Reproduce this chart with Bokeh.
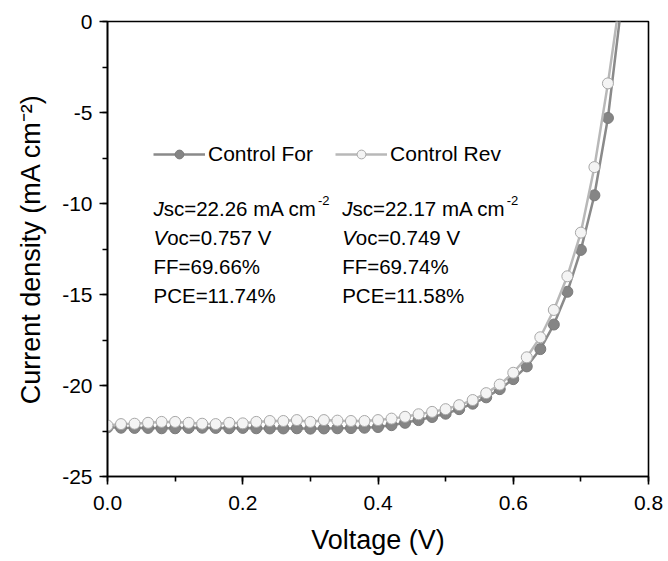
from bokeh.plotting import figure
from bokeh.models import (ColumnDataSource, SingleIntervalTicker, PrintfTickFormatter,
                          Legend, LegendItem, Label, Range1d)
from bokeh.embed import file_html
from bokeh.resources import INLINE

# ---- data ----
voltage = [0.00, 0.02, 0.04, 0.06, 0.08, 0.10, 0.12, 0.14, 0.16, 0.18,
           0.20, 0.22, 0.24, 0.26, 0.28, 0.30, 0.32, 0.34, 0.36, 0.38,
           0.40, 0.42, 0.44, 0.46, 0.48, 0.50, 0.52, 0.54, 0.56, 0.58,
           0.60, 0.62, 0.64, 0.66, 0.68, 0.70, 0.72, 0.74, 0.76]
j_forward = [-22.30, -22.32, -22.33, -22.33, -22.35, -22.35, -22.33, -22.32, -22.33, -22.35,
             -22.33, -22.35, -22.36, -22.36, -22.35, -22.37, -22.36, -22.35, -22.34, -22.32,
             -22.28, -22.18, -22.05, -21.90, -21.73, -21.55, -21.30, -21.00, -20.65, -20.20,
             -19.65, -18.95, -18.00, -16.65, -14.85, -12.55, -9.55, -5.30, 0.90]
j_reverse = [-22.20, -22.12, -22.10, -22.05, -22.00, -22.00, -22.05, -22.10, -22.12, -22.05,
             -22.08, -22.00, -21.95, -21.95, -21.90, -22.00, -21.90, -21.93, -21.95, -21.95,
             -21.90, -21.82, -21.72, -21.58, -21.45, -21.30, -21.08, -20.80, -20.42, -19.95,
             -19.30, -18.45, -17.35, -15.85, -14.00, -11.60, -8.00, -3.40, 1.80]
series_names = ["Control For", "Control Rev"]
params_for = [("J", "sc=22.26 mA cm", "-2"), ("V", "oc=0.757 V", ""), ("", "FF=69.66%", ""), ("", "PCE=11.74%", "")]
params_rev = [("J", "sc=22.17 mA cm", "-2"), ("V", "oc=0.749 V", ""), ("", "FF=69.74%", ""), ("", "PCE=11.58%", "")]

FONT = "Liberation Sans"

src_f = ColumnDataSource(dict(v=voltage, j=j_forward))
src_r = ColumnDataSource(dict(v=voltage, j=j_reverse))

p = figure(width=668, height=561, output_backend="svg", toolbar_location=None,
           x_range=Range1d(0, 0.8), y_range=Range1d(-25, 0),
           min_border_left=107, min_border_right=20, min_border_top=21, min_border_bottom=85)
p.xgrid.visible = False
p.ygrid.visible = False
p.outline_line_color = "black"
p.outline_line_width = 1.6
p.background_fill_color = "white"
p.border_fill_color = "white"

p.xaxis.ticker = SingleIntervalTicker(interval=0.2, num_minor_ticks=2)
p.yaxis.ticker = SingleIntervalTicker(interval=5, num_minor_ticks=2)
p.xaxis.formatter = PrintfTickFormatter(format="%.1f")
p.yaxis.formatter = PrintfTickFormatter(format="%d")
p.xaxis.axis_label = "Voltage (V)"
p.yaxis.axis_label = "Current density (mA cm\u207b\u00b2)"
for ax in (p.xaxis, p.yaxis):
    ax.axis_line_width = 1.6
    ax.axis_line_color = "black"
    ax.major_tick_line_width = 1.6
    ax.minor_tick_line_width = 1.6
    ax.major_tick_in = 0
    ax.major_tick_out = 8
    ax.minor_tick_in = 0
    ax.minor_tick_out = 5
    ax.major_label_text_font = FONT
    ax.major_label_text_font_size = "21px"
    ax.major_label_text_color = "black"
    ax.axis_label_text_font = FONT
    ax.axis_label_text_font_size = "27px"
    ax.axis_label_text_font_style = "normal"
    ax.axis_label_text_color = "black"
p.xaxis.major_label_standoff = 11
p.yaxis.major_label_standoff = 7
p.xaxis.axis_label_standoff = 12
p.yaxis.axis_label_standoff = 13

lf = p.line("v", "j", source=src_f, line_color="#8a8a8a", line_width=2.5)
sf = p.scatter("v", "j", source=src_f, size=11, fill_color="#858585", line_color="#7a7a7a", line_width=1)
lr = p.line("v", "j", source=src_r, line_color="#b8b8b8", line_width=2.5)
sr = p.scatter("v", "j", source=src_r, size=11, fill_color="#f4f4f4", line_color="#a8a8a8", line_width=1)

legend = Legend(items=[LegendItem(label=series_names[0], renderers=[lf, sf]),
                       LegendItem(label=series_names[1], renderers=[lr, sr])],
                orientation="horizontal", location=(46, 310),
                glyph_width=52, glyph_height=22, label_height=22,
                label_standoff=3, spacing=22, padding=0, margin=0,
                border_line_color=None, background_fill_alpha=0,
                label_text_font=FONT, label_text_font_size="21px", label_text_color="black")
p.add_layout(legend, "center")

# annotation texts
FS = 20.5
ITALIC_W = {"J": 0.5 * FS, "V": 0.667 * FS, "": 0.0}
REST_W = 7.475 * FS
rows_y = [-10.27, -11.87, -13.47, -15.07]
for col_x, params in ((0.068, params_for), (0.347, params_rev)):
    for yy, (ital, rest, sup) in zip(rows_y, params):
        if ital:
            p.add_layout(Label(x=col_x, y=yy, text=ital, text_font=FONT, text_font_size=f"{FS}px",
                               text_font_style="italic", text_baseline="middle", text_color="black"))
        p.add_layout(Label(x=col_x, y=yy, x_offset=ITALIC_W[ital], text=rest, text_font=FONT,
                           text_font_size=f"{FS}px", text_baseline="middle", text_color="black"))
        if sup:
            p.add_layout(Label(x=col_x, y=yy, x_offset=ITALIC_W[ital] + REST_W + 1, y_offset=8,
                               text=sup, text_font=FONT, text_font_size="13px",
                               text_baseline="middle", text_color="black"))

open("out.html", "w").write(file_html(p, INLINE))
